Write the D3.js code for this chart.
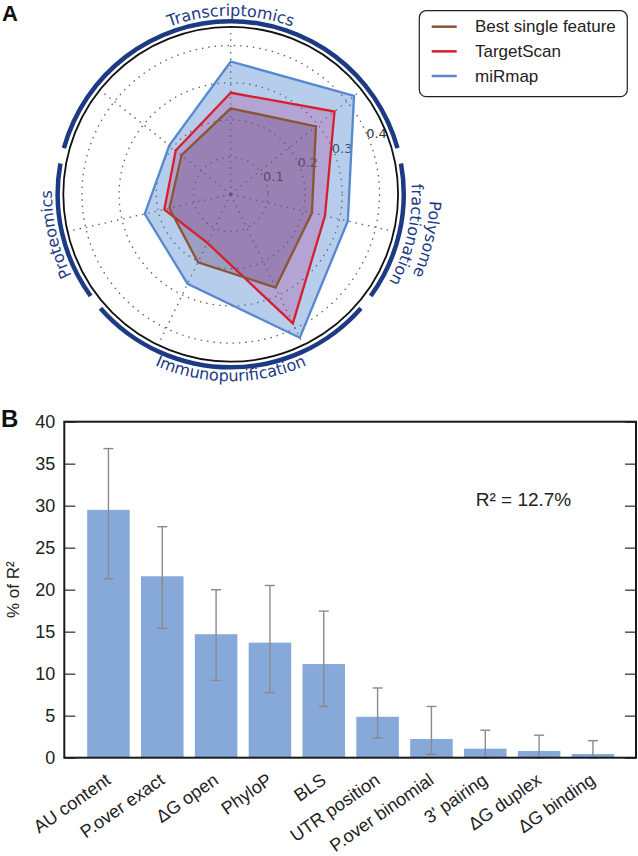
<!DOCTYPE html>
<html><head><meta charset="utf-8">
<script src="https://cdn.jsdelivr.net/npm/d3@7"></script>
<style>body{margin:0;background:#fff}</style>
</head><body>
<svg id="c" width="638" height="856"></svg>
<script>
// ---------- DATA ----------
const radarGroups = ["Transcriptomics", "Polysome|fractionation", "Immunopurification", "Proteomics"];
const radarGroupAxes = [[-1, 0, 1], [2], [3, 4], [5]];   // axis indices (of 7) per dataset
const radarTicks = [0.1, 0.2, 0.3, 0.4];
const seriesNames = ["Best single feature", "TargetScan", "miRmap"];
const bestSingle = [0.231, 0.293, 0.224, 0.278, 0.203, 0.169, 0.169];
const targetScan = [0.273, 0.357, 0.260, 0.385, 0.145, 0.183, 0.189];
const miRmap     = [0.357, 0.424, 0.323, 0.428, 0.267, 0.237, 0.211];

const features = ["AU content", "P.over exact", "ΔG open", "PhyloP", "BLS", "UTR position",
                  "P.over binomial", "3' pairing", "ΔG duplex", "ΔG binding"];
const pctR2   = [29.5, 21.6, 14.7, 13.7, 11.15, 4.87, 2.23, 1.08, 0.8, 0.44];
const errLow  = [21.3, 15.4, 9.2, 7.75, 6.1, 2.35, 0.4, 0, 0, 0];
const errHigh = [36.8, 27.5, 20.0, 20.5, 17.45, 8.3, 6.1, 3.27, 2.68, 2.03];
const yTicks  = [0, 5, 10, 15, 20, 25, 30, 35, 40];
const r2Text  = "R² = 12.7%";

// ---------- SETUP ----------
const svg = d3.select("#c");
const NAX = 7;
const cx = 230.7, cy = 194.3;
const rScale = d3.scaleLinear().domain([0, 0.45]).range([0, 167.4]);
const ang = k => k * 2 * Math.PI / NAX;
const pt = (R, a) => [cx + R * Math.sin(a), cy - R * Math.cos(a)];
const navy = "#1d3a85";
const radarFont = "'DejaVu Sans', sans-serif";
const barFont = "'Liberation Sans', Arial, sans-serif";

const gR = svg.append("g");

// grid circles
gR.selectAll("circle.grid").data(radarTicks).enter().append("circle")
  .attr("cx", cx).attr("cy", cy).attr("r", d => rScale(d))
  .attr("fill", "none").attr("stroke", "#555").attr("stroke-width", 1.3)
  .attr("stroke-dasharray", "1.4,5");
// spokes
gR.selectAll("line.spoke").data(d3.range(NAX)).enter().append("line")
  .attr("x1", cx).attr("y1", cy)
  .attr("x2", k => pt(rScale(0.45), ang(k))[0]).attr("y2", k => pt(rScale(0.45), ang(k))[1])
  .attr("stroke", "#555").attr("stroke-width", 1.3).attr("stroke-dasharray", "1.4,5");
gR.append("circle").attr("cx", cx).attr("cy", cy).attr("r", 2).attr("fill", "#555");

// r tick labels
const labA = 67.5 * Math.PI / 180;
gR.selectAll("text.rt").data(radarTicks).enter().append("text")
  .attr("x", d => pt(rScale(d) + 9, labA)[0]).attr("y", d => pt(rScale(d) + 9, labA)[1])
  .attr("text-anchor", "middle").attr("dominant-baseline", "central")
  .attr("font-family", radarFont).attr("font-size", 13).attr("fill", "#333")
  .text(d => d.toFixed(1));

// polygons (fills bottom-to-top: miRmap, TargetScan, best single)
const series = [
  {name: seriesNames[2], vals: miRmap, line: "#5588d0", fill: "#4b82cf", op: 0.40},
  {name: seriesNames[1], vals: targetScan, line: "#d7202b", fill: "#b0449c", op: 0.30},
  {name: seriesNames[0], vals: bestSingle, line: "#8a5535", fill: "#5c3466", op: 0.30}
];
const radial = d3.lineRadial().angle((d, i) => ang(i)).radius(d => rScale(d)).curve(d3.curveLinearClosed);
const gP = gR.append("g").attr("transform", `translate(${cx},${cy})`);
series.forEach(s => {
  gP.append("path").attr("d", radial(s.vals)).attr("fill", s.fill).attr("fill-opacity", s.op).attr("stroke", "none");
});
series.forEach(s => {
  gP.append("path").attr("d", radial(s.vals)).attr("fill", "none").attr("stroke", s.line)
    .attr("stroke-width", 2.3).attr("stroke-linejoin", "miter");
});

// black circle
gR.append("circle").attr("cx", cx).attr("cy", cy).attr("r", rScale(0.45))
  .attr("fill", "none").attr("stroke", "#111").attr("stroke-width", 1.8);

// group arcs
const half = Math.PI / NAX, gap = 2.6 * Math.PI / 180;
const arcGen = d3.arc().innerRadius(170.8).outerRadius(175.3);
radarGroupAxes.forEach((axes, gi) => {
  const a0 = ang(axes[0]) - half + gap, a1 = ang(axes[axes.length - 1]) + half - gap;
  gR.append("path").attr("transform", `translate(${cx},${cy})`)
    .attr("d", arcGen({startAngle: a0, endAngle: a1})).attr("fill", navy);
});

// curved labels
const defs = svg.append("defs");
function addCurved(id, txt, R, phi, cw) {
  let p0, p1, sweep;
  if (cw) { p0 = pt(R, phi - Math.PI / 2); p1 = pt(R, phi + Math.PI / 2); sweep = 1; }
  else { p0 = pt(R, phi + Math.PI / 2); p1 = pt(R, phi - Math.PI / 2); sweep = 0; }
  defs.append("path").attr("id", id)
    .attr("d", `M${p0[0]},${p0[1]} A${R},${R} 0 0 ${sweep} ${p1[0]},${p1[1]}`);
  gR.append("text").attr("font-family", radarFont).attr("font-size", 16).attr("fill", navy)
    .append("textPath").attr("href", "#" + id).attr("startOffset", "50%")
    .attr("text-anchor", "middle").text(txt);
}
radarGroupAxes.forEach((axes, gi) => {
  const phi = (ang(axes[0]) + ang(axes[axes.length - 1])) / 2;
  const name = radarGroups[gi];
  const deg = ((phi * 180 / Math.PI) % 360 + 360) % 360;
  if (name.includes("|")) {
    const [l1, l2] = name.split("|");
    addCurved("lab" + gi + "a", l1, 199, phi, true);
    addCurved("lab" + gi + "b", l2, 181, phi, true);
  } else if (deg > 135 && deg < 225) {
    addCurved("lab" + gi, name, 187, phi, false);
  } else {
    addCurved("lab" + gi, name, 178.5, phi, true);
  }
});

// legend
const lg = svg.append("g");
lg.append("rect").attr("x", 419.3).attr("y", 10.7).attr("width", 208).attr("height", 86)
  .attr("rx", 7).attr("fill", "#fff").attr("stroke", "#222").attr("stroke-width", 1.2);
const legColors = ["#8a5535", "#d7202b", "#5588d0"];
seriesNames.forEach((n, i) => {
  const yy = 26.7 + i * 24.65;
  lg.append("line").attr("x1", 431.7).attr("x2", 456.7).attr("y1", yy).attr("y2", yy)
    .attr("stroke", legColors[i]).attr("stroke-width", 2.5);
  lg.append("text").attr("x", 475).attr("y", yy).attr("dominant-baseline", "central")
    .attr("font-family", barFont).attr("font-size", 17).attr("fill", "#222").text(n);
});

// panel letters
svg.append("text").attr("x", 2).attr("y", 21).attr("font-family", barFont).attr("font-weight", "bold")
  .attr("font-size", 22).attr("fill", "#111").text("A");
svg.append("text").attr("x", 1).attr("y", 427).attr("font-family", barFont).attr("font-weight", "bold")
  .attr("font-size", 24).attr("fill", "#111").text("B");

// ---------- BAR CHART ----------
const L = 64.3, Rr = 636, T = 421.7, B = 757.7;
const x = d3.scaleLinear().domain([-0.82, 9.8]).range([L, Rr]);
const y = d3.scaleLinear().domain([0, 40]).range([B, T]);
const bw = x(0.395) - x(-0.395);
const gB = svg.append("g");

gB.selectAll("rect.bar").data(pctR2).enter().append("rect")
  .attr("x", (d, i) => x(i) - bw / 2).attr("width", bw)
  .attr("y", d => y(d)).attr("height", d => y(0) - y(d)).attr("fill", "#86a9da");

// error bars
const eb = gB.selectAll("g.eb").data(pctR2).enter().append("g")
  .attr("stroke", "#8a8a8a").attr("stroke-width", 1.4);
eb.append("line").attr("x1", (d, i) => x(i)).attr("x2", (d, i) => x(i))
  .attr("y1", (d, i) => y(errLow[i])).attr("y2", (d, i) => y(errHigh[i]));
eb.append("line").attr("x1", (d, i) => x(i) - 5).attr("x2", (d, i) => x(i) + 5)
  .attr("y1", (d, i) => y(errHigh[i])).attr("y2", (d, i) => y(errHigh[i]));
eb.append("line").attr("x1", (d, i) => x(i) - 5).attr("x2", (d, i) => x(i) + 5)
  .attr("y1", (d, i) => y(errLow[i])).attr("y2", (d, i) => y(errLow[i]));

// axes
const yl = gB.append("g").attr("transform", `translate(${L},0)`)
  .call(d3.axisLeft(y).tickValues(yTicks).tickSizeInner(-11).tickSizeOuter(0).tickPadding(9));
yl.select(".domain").remove();
yl.selectAll(".tick line").attr("stroke", "#555").attr("stroke-width", 1.5);
yl.selectAll(".tick text").attr("font-family", barFont).attr("font-size", 18).attr("fill", "#222");
const yr = gB.append("g").attr("transform", `translate(${Rr},0)`)
  .call(d3.axisRight(y).tickValues(yTicks).tickSizeInner(-11).tickSizeOuter(0).tickFormat(""));
yr.select(".domain").remove();
yr.selectAll(".tick line").attr("stroke", "#555").attr("stroke-width", 1.5);

const xa = gB.append("g").attr("transform", `translate(0,${B})`)
  .call(d3.axisBottom(x).tickValues(d3.range(features.length)).tickFormat(i => features[i]).tickSize(0));
xa.select(".domain").remove();
xa.selectAll(".tick text").attr("font-family", barFont).attr("font-size", 18).attr("fill", "#222")
  .attr("x", 0).attr("y", 0).attr("dy", 0).attr("text-anchor", "end")
  .attr("transform", "translate(3,25) rotate(-35)");

// frame
gB.append("rect").attr("x", L).attr("y", T).attr("width", Rr - L).attr("height", B - T)
  .attr("fill", "none").attr("stroke", "#1a1a1a").attr("stroke-width", 2);

// y label
svg.append("text").attr("transform", `translate(19,${(T + B) / 2}) rotate(-90)`)
  .attr("text-anchor", "middle").attr("font-family", barFont).attr("font-size", 17).attr("fill", "#222")
  .text("% of R²");

// R2 annotation
svg.append("text").attr("x", 475.7).attr("y", 506).attr("font-family", barFont)
  .attr("font-size", 19).attr("fill", "#222").text(r2Text);
</script>
</body></html>
